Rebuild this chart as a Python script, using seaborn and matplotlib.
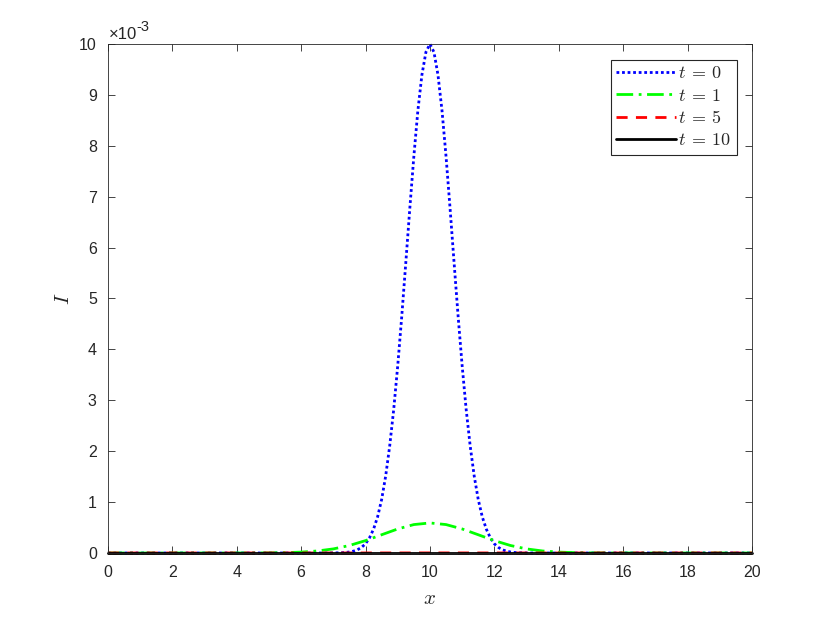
import matplotlib
matplotlib.use("Agg")
import matplotlib.pyplot as plt
import seaborn as sns
import pandas as pd
from matplotlib.ticker import FuncFormatter

# profile values of I(x) at each time (units: 1)
x_t0 = [0, 7.0, 7.125, 7.25, 7.375, 7.5, 7.625, 7.75, 7.875, 8.0, 8.125, 8.25, 8.375, 8.5,
        8.625, 8.75, 8.875, 9.0, 9.125, 9.25, 9.375, 9.5, 9.625, 9.75, 9.875, 10.0,
        10.125, 10.25, 10.375, 10.5, 10.625, 10.75, 10.875, 11.0, 11.125, 11.25, 11.375,
        11.5, 11.625, 11.75, 11.875, 12.0, 12.125, 12.25, 12.375, 12.5, 12.625, 12.75,
        12.875, 13.0, 20]
i_t0 = [0, 0.00000, 0.000003, 0.000005, 0.000010, 0.000019, 0.000036, 0.000063, 0.00011,
        0.00018, 0.00030, 0.00047, 0.00071, 0.00105, 0.00151, 0.00210, 0.00282, 0.00368,
        0.00465, 0.00570, 0.00677, 0.00779, 0.00869, 0.00939, 0.00984, 0.01000,
        0.00984, 0.00939, 0.00869, 0.00779, 0.00677, 0.00570, 0.00465, 0.00368,
        0.00282, 0.00210, 0.00151, 0.00105, 0.00071, 0.00047, 0.00030, 0.00018,
        0.00011, 0.000063, 0.000036, 0.000019, 0.000010, 0.000005, 0.000003, 0.00000, 0]

x_t1 = [0, 4.0, 4.5, 5.0, 5.5, 6.0, 6.5, 7.0, 7.5, 8.0, 8.5, 9.0, 9.5, 10.0, 10.5, 11.0,
        11.5, 12.0, 12.5, 13.0, 13.5, 14.0, 14.5, 15.0, 15.5, 16.0, 20]
i_t1 = [0, 0.0, 0.000001, 0.000002, 0.000007, 0.000017, 0.000039, 0.000080, 0.000147,
        0.000243, 0.000358, 0.000472, 0.000558, 0.000590, 0.000558, 0.000472, 0.000358,
        0.000243, 0.000147, 0.000080, 0.000039, 0.000017, 0.000007, 0.000002, 0.000001,
        0.0, 0]

x_t5 = [0, 6, 8, 10, 12, 14, 20]
i_t5 = [0, 0.0, 0.000001, 0.000002, 0.000001, 0.0, 0]

x_t10 = [0, 10, 20]
i_t10 = [0, 0.0, 0]

series = [
    (r"$t\:=\:0$", x_t0, i_t0, "#0000ff", (0, (1, 1))),
    (r"$t\:=\:1$", x_t1, i_t1, "#00ff00", (0, (6, 2, 1, 2))),
    (r"$t\:=\:5$", x_t5, i_t5, "#ff0000", (0, (4, 3))),
    (r"$t\:=\:10$", x_t10, i_t10, "#000000", "-"),
]

sns.set_theme(style="ticks")
plt.rcParams["font.family"] = ["Liberation Sans", "DejaVu Sans"]
plt.rcParams["mathtext.fontset"] = "cm"

fig = plt.figure(figsize=(8.3, 6.23), dpi=100)
ax = fig.add_axes([0.13, 0.1124, 0.776, 0.817])

for label, xs, ys, col, ls in series:
    df = pd.DataFrame({"x": xs, "I": ys})
    sns.lineplot(data=df, x="x", y="I", ax=ax, color=col, linestyle=ls,
                 linewidth=2, label=label, sort=False, clip_on=False)

ax.set_xlim(0, 20)
ax.set_ylim(0, 0.01)
ax.set_xticks(range(0, 21, 2))
ax.set_yticks([k * 0.001 for k in range(11)])
ax.yaxis.set_major_formatter(FuncFormatter(lambda v, p: f"{v * 1000:.0f}"))
ax.tick_params(direction="in", top=True, right=True, length=5, width=0.6,
               color="#262626", labelcolor="#262626", labelsize=11.5)
ax.tick_params(axis="x", pad=9)
ax.tick_params(axis="y", pad=8)
for sp in ax.spines.values():
    sp.set_linewidth(0.6)
    sp.set_color("#262626")

ax.set_xlabel("$x$", fontsize=15, color="#262626", labelpad=6)
ax.set_ylabel("$I$", fontsize=15, color="#262626", labelpad=4)
# MATLAB-style exponent marker above the y axis
ax.text(0.002, 1.003, "\u00d710", transform=ax.transAxes,
        fontsize=12, color="#262626", ha="left", va="bottom")
ax.text(0.044, 1.02, "-3", transform=ax.transAxes,
        fontsize=10.5, color="#262626", ha="left", va="bottom")

leg = ax.legend(loc="upper right", bbox_to_anchor=(0.977, 0.969), borderaxespad=0,
                fancybox=False, framealpha=1, edgecolor="#262626", fontsize=13,
                handlelength=3.3, handletextpad=0.15, labelspacing=0.3,
                borderpad=0.3)
leg.get_frame().set_linewidth(0.8)

fig.savefig("out.png", dpi=100)
